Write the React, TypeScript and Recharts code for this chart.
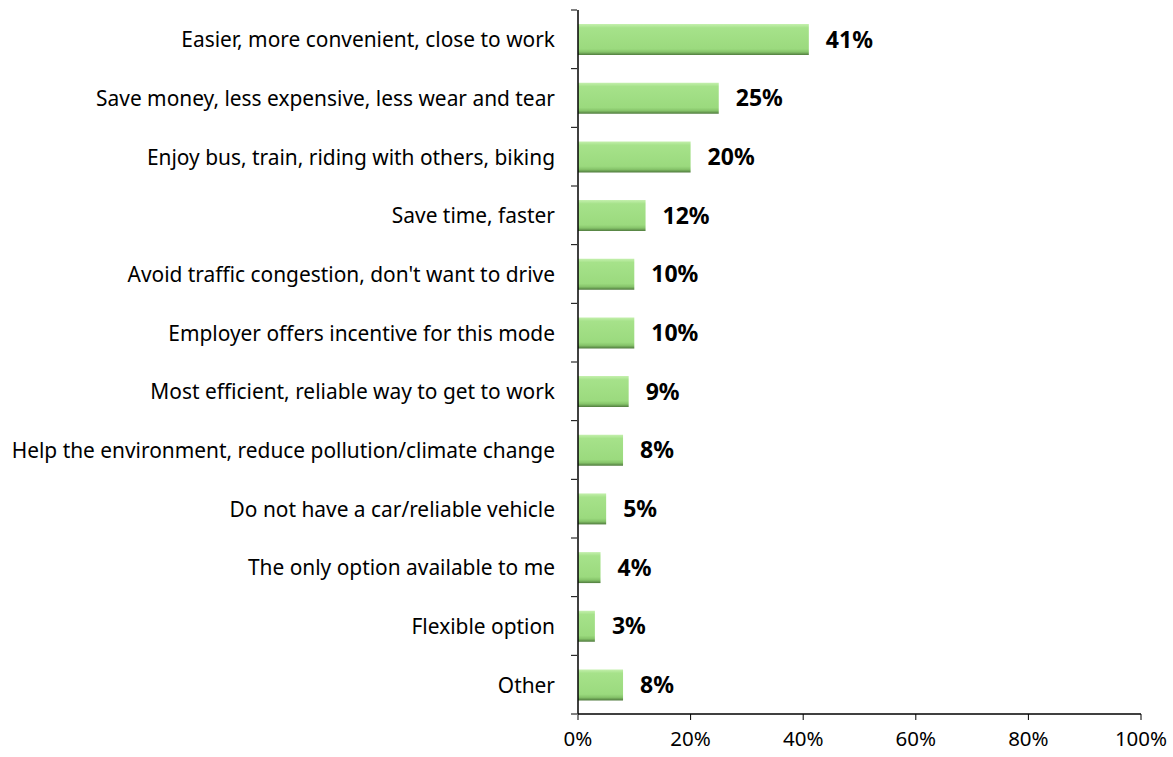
import React from "react";
import { BarChart, Bar, XAxis, YAxis, LabelList } from "recharts";

const reasons = [
  "Easier, more convenient, close to work",
  "Save money, less expensive, less wear and tear",
  "Enjoy bus, train, riding with others, biking",
  "Save time, faster",
  "Avoid traffic congestion, don't want to drive",
  "Employer offers incentive for this mode",
  "Most efficient, reliable way to get to work",
  "Help the environment, reduce pollution/climate change",
  "Do not have a car/reliable vehicle",
  "The only option available to me",
  "Flexible option",
  "Other",
];
const shares = [41, 25, 20, 12, 10, 10, 9, 8, 5, 4, 3, 8];
const xTicks = [0, 20, 40, 60, 80, 100];

const data = reasons.map((reason, i) => ({ reason, share: shares[i] }));

const FONT = "'Noto Sans', sans-serif";
const PLOT_TOP = 10;
const PLOT_BOTTOM = 714;
const BAND = (PLOT_BOTTOM - PLOT_TOP) / reasons.length;

const CategoryTick = (props: any) => {
  const { x, y, payload, index } = props;
  const isLast = index === reasons.length - 1;
  return (
    <g>
      <line x1={x + 16} x2={x + 22} y1={y - BAND / 2} y2={y - BAND / 2} stroke="#000" strokeWidth={1} />
      {isLast && (
        <line x1={x + 16} x2={x + 22} y1={y + BAND / 2} y2={y + BAND / 2} stroke="#000" strokeWidth={1} />
      )}
      <text x={x} y={y} dy={8} textAnchor="end" fontSize={20.9} fontFamily={FONT} fill="#000">
        {payload.value}
      </text>
    </g>
  );
};

// x ticks drawn with a fixed baseline so they stay inside the svg
const PercentTick = (props: any) => {
  const { x, y, payload } = props;
  return (
    <text x={x} y={y} dy={16} textAnchor="middle" fontSize={20.5} fontFamily={FONT} fill="#000">
      {`${payload.value}%`}
    </text>
  );
};

export default function App() {
  return (
    <div style={{ position: "absolute", left: 0, top: 0, background: "#fff" }}>
      <BarChart
        width={1173}
        height={757}
        data={data}
        layout="vertical"
        margin={{ top: PLOT_TOP, right: 32, left: 0, bottom: 0 }}
        barCategoryGap="24%"
      >
        <defs>
          <linearGradient id="barFill" x1="0" y1="0" x2="0" y2="1">
            <stop offset="0%" stopColor="#c4f0ad" />
            <stop offset="12%" stopColor="#a6e28a" />
            <stop offset="80%" stopColor="#9bda7e" />
            <stop offset="90%" stopColor="#86c46a" />
            <stop offset="100%" stopColor="#4f7a3d" />
          </linearGradient>
        </defs>
        <XAxis
          type="number"
          domain={[0, 100]}
          ticks={xTicks}
          height={43}
          axisLine={{ stroke: "#000", strokeWidth: 1.5 }}
          tickLine={{ stroke: "#000" }}
          tickSize={6}
          tickMargin={10}
          tick={<PercentTick />}
          interval={0}
        />
        <YAxis
          type="category"
          dataKey="reason"
          width={578}
          axisLine={{ stroke: "#000", strokeWidth: 1.5 }}
          tickLine={false}
          tickMargin={0}
          tickSize={23}
          tick={<CategoryTick />}
          interval={0}
        />
        <Bar dataKey="share" fill="url(#barFill)" isAnimationActive={false}>
          <LabelList
            dataKey="share"
            position="right"
            offset={17}
            formatter={(v: any) => `${v}%`}
            style={{ fill: "#000", fontSize: 23, fontWeight: 700, fontFamily: FONT }}
          />
        </Bar>
      </BarChart>
    </div>
  );
}
